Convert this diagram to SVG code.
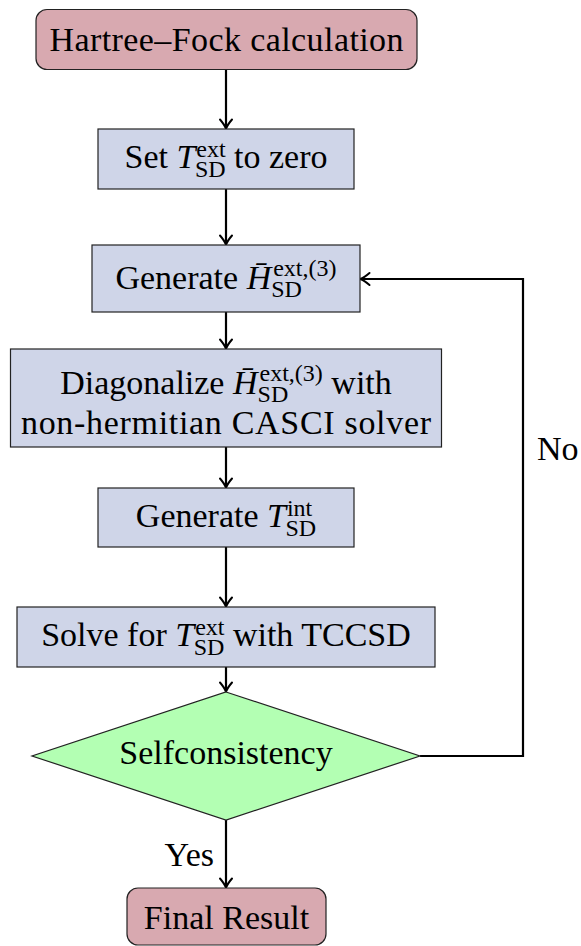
<svg xmlns="http://www.w3.org/2000/svg" width="581" height="946" viewBox="0 0 581 946">
<style>
.i { font-style: italic; }
.term { fill: #d8a9b0; stroke: #222; stroke-width: 1.2; }
.proc { fill: #cfd5e8; stroke: #222; stroke-width: 1.2; }
.dec { fill: #b3ffb3; stroke: #222; stroke-width: 1.2; }
.edge { fill: none; stroke: #000; stroke-width: 2.2; marker-end: url(#arr); }
</style>
<defs>
<marker id="arr" markerUnits="userSpaceOnUse" viewBox="-10 -7 12 14" markerWidth="12" markerHeight="14" refX="0" refY="0" orient="auto" overflow="visible">
<path d="M -8.5,-6 Q -3,-1.3 0.8,0 Q -3,1.3 -8.5,6" fill="none" stroke="#000" stroke-width="2" stroke-linecap="round" stroke-linejoin="round"/>
</marker>
</defs>

<g id="connectors">
<line class="edge" x1="226" y1="69.5" x2="226" y2="128"/>
<line class="edge" x1="226" y1="189" x2="226" y2="244"/>
<line class="edge" x1="226" y1="312" x2="226" y2="348"/>
<line class="edge" x1="226" y1="447" x2="226" y2="487"/>
<line class="edge" x1="226" y1="547" x2="226" y2="606"/>
<line class="edge" x1="226" y1="667" x2="226" y2="691"/>
<line class="edge" x1="226" y1="820" x2="226" y2="887"/>
<polyline class="edge" points="420,756 523,756 523,279 361,279"/>
</g>

<g id="labels" font-family="Liberation Serif, serif" font-size="34">
<text x="214" y="866" text-anchor="end">Yes</text>
<text x="537" y="460">No</text>
</g>

<g id="hf" font-family="Liberation Serif, serif" font-size="34">
<rect class="term" x="36" y="9.5" width="381" height="60" rx="11"/>
<text x="226.5" y="51" text-anchor="middle" textLength="354">Hartree–Fock calculation</text>
</g>

<g id="set" font-family="Liberation Serif, serif" font-size="34">
<rect class="proc" x="98" y="129" width="256" height="60"/>
<text x="226" y="167.5" text-anchor="middle">Set <tspan class="i">T</tspan><tspan font-size="24" dx="1" dy="-11">ext</tspan><tspan font-size="24" dx="-30.8" dy="20">SD</tspan><tspan dy="-9"> to zero</tspan></text>
</g>

<g id="genH" font-family="Liberation Serif, serif" font-size="34">
<rect class="proc" x="92" y="245" width="268" height="67"/>
<text x="226" y="289" text-anchor="middle">Generate <tspan class="i">H̄</tspan><tspan font-size="24" dy="8">SD</tspan><tspan font-size="24" dx="-28.7" dy="-21">ext,(3)</tspan></text>
</g>

<g id="diag" font-family="Liberation Serif, serif" font-size="34">
<rect class="proc" x="10.5" y="349" width="431" height="98"/>
<text x="226" y="394" text-anchor="middle">Diagonalize <tspan class="i">H̄</tspan><tspan font-size="24" dy="8">SD</tspan><tspan font-size="24" dx="-28.7" dy="-21">ext,(3)</tspan><tspan dy="13"> with</tspan></text>
<text x="226" y="434" text-anchor="middle" textLength="410">non-hermitian CASCI solver</text>
</g>

<g id="genT" font-family="Liberation Serif, serif" font-size="34">
<rect class="proc" x="98" y="488" width="256" height="59"/>
<text x="226" y="526.5" text-anchor="middle">Generate <tspan class="i">T</tspan><tspan font-size="24" dx="1" dy="-11">int</tspan><tspan font-size="24" dx="-26.8" dy="20">SD</tspan></text>
</g>

<g id="solve" font-family="Liberation Serif, serif" font-size="34">
<rect class="proc" x="17" y="607" width="418" height="60"/>
<text x="226" y="645.5" text-anchor="middle">Solve for <tspan class="i">T</tspan><tspan font-size="24" dx="1" dy="-11">ext</tspan><tspan font-size="24" dx="-30.8" dy="20">SD</tspan><tspan dy="-9"> with TCCSD</tspan></text>
</g>

<g id="selfc" font-family="Liberation Serif, serif" font-size="34">
<polygon class="dec" points="226,692 420,756 226,820 32,756"/>
<text x="226" y="764" text-anchor="middle">Selfconsistency</text>
</g>

<g id="final" font-family="Liberation Serif, serif" font-size="34">
<rect class="term" x="127" y="888" width="199" height="57" rx="11"/>
<text x="226.5" y="929" text-anchor="middle">Final Result</text>
</g>
</svg>
